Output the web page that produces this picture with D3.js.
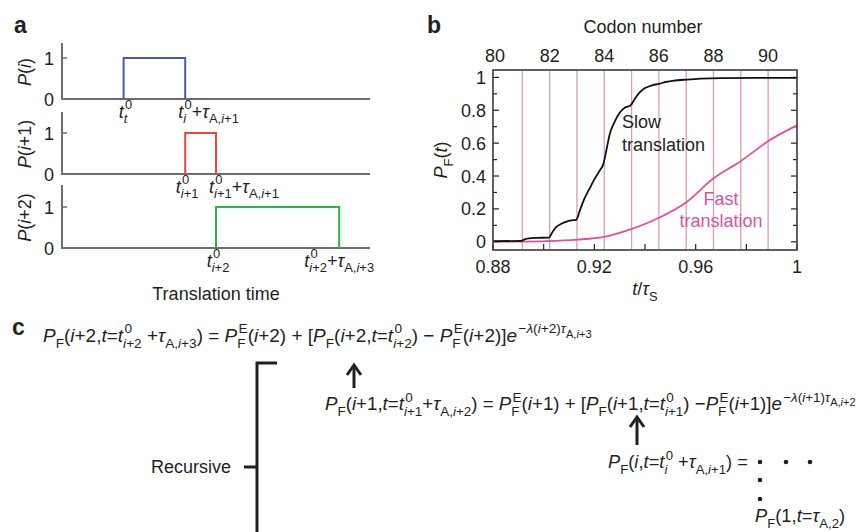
<!DOCTYPE html>
<html>
<head>
<meta charset="utf-8">
<script src="https://cdn.jsdelivr.net/npm/d3@7"></script>
<style>
  body { margin: 0; background: #fff; }
  svg text { font-family: "Liberation Sans", Arial, Helvetica, sans-serif; fill: #231f20; white-space: pre; }
</style>
</head>
<body>
<div id="chart"></div>
<script>
// ---- datos panel a (pulsos en unidades de tiempo arbitrarias)
const pulseYLabels = ['P(i)', 'P(i+1)', 'P(i+2)'];
const pulseStart = [2, 4, 5];
const pulseEnd = [4, 5, 9];
const pulseStartLabels = ['t^{0}_{t}', 't^{0}_{i+1}', 't^{0}_{i+2}'];
const pulseEndLabels = ['t^{0}_{i}+τ_{A,i+1}', 't^{0}_{i+1}+τ_{A,i+1}', 't^{0}_{i+2}+τ_{A,i+3}'];
const pulseTicks = [0, 1];

// ---- datos panel b
const slowT = [0.880, 0.8912, 0.8925, 0.894, 0.897, 0.902, 0.9035, 0.905, 0.907, 0.909, 0.911, 0.9128,
  0.9145, 0.916, 0.918, 0.920, 0.922, 0.9236, 0.9248, 0.926, 0.928, 0.930, 0.932, 0.9343,
  0.936, 0.938, 0.940, 0.943, 0.9455, 0.948, 0.951, 0.9565, 0.962, 0.970, 1.000];
const slowP = [0.004, 0.005, 0.015, 0.021, 0.024, 0.025, 0.06, 0.09, 0.11, 0.123, 0.13, 0.133,
  0.2, 0.26, 0.32, 0.38, 0.43, 0.475, 0.56, 0.65, 0.73, 0.785, 0.815, 0.83,
  0.87, 0.91, 0.935, 0.953, 0.96, 0.972, 0.979, 0.987, 0.993, 0.996, 0.997];
const fastT = [0.880, 0.890, 0.9013, 0.9132, 0.9238, 0.9345, 0.9451, 0.9566, 0.9668, 0.9779, 0.9889, 1.0];
const fastP = [0.0, 0.001, 0.004, 0.013, 0.03, 0.077, 0.143, 0.244, 0.383, 0.492, 0.615, 0.708];
const codonTicks = [80, 82, 84, 86, 88, 90];
const codonGrid = [81, 82, 83, 84, 85, 86, 87, 88, 89, 90];
const codonT = [0.8808, 0.9886];   // t/tauS de los codones 80 y 90
const timeTicks = [0.88, 0.92, 0.96, 1];
const probTicks = [0, 0.2, 0.4, 0.6, 0.8, 1];

// ---- panel c (ecuaciones)
const eqLines = [
  'P_{F}(i+2,t=t^{0}_{i+2} +τ_{A,i+3}) = P^{E}_{F}(i+2) + [P_{F}(i+2,t=t^{0}_{i+2}) − P^{E}_{F}(i+2)]e^{−λ(i+2)τ_{A,i+3}}',
  'P_{F}(i+1,t=t^{0}_{i+1}+τ_{A,i+2}) = P^{E}_{F}(i+1) + [P_{F}(i+1,t=t^{0}_{i+1}) −P^{E}_{F}(i+1)]e^{−λ(i+1)τ_{A,i+2}}',
  'P_{F}(i,t=t^{0}_{i} +τ_{A,i+1}) =',
  'P_{F}(1,t=τ_{A,2})'
];

// Constantes de layout
const width = 860;
const height = 532;
const ink = '#231f20';
const pulseColors = ['#4b5aa7', '#e8473f', '#2eb24b'];
const pink = '#df4f9d';
const fs = 18;

const svg = d3.select('#chart').append('svg')
  .attr('width', width)
  .attr('height', height);

// ---------- helper para texto matematico (sub/superindices)
const ITALIC = new Set(['P', 'i', 't', 'e', 'λ', 'τ']);

function readGroup(s, k) {
  let depth = 0, j = k;
  for (; j < s.length; j++) {
    if (s[j] === '{') depth++;
    else if (s[j] === '}') { depth--; if (depth === 0) break; }
  }
  return [s.slice(k + 1, j), j + 1];
}

function mathText(g, s, x, y, size, level = 0) {
  let i = 0;
  let prevItalic = false;
  while (i < s.length) {
    const c = s[i];
    if (c === '^' || c === '_') {
      let sup = null, sub = null;
      let [grp, j] = readGroup(s, i + 1);
      if (c === '^') sup = grp; else sub = grp;
      i = j;
      if (s[i] === '_' && sub === null) { [grp, j] = readGroup(s, i + 1); sub = grp; i = j; }
      else if (s[i] === '^' && sup === null) { [grp, j] = readGroup(s, i + 1); sup = grp; i = j; }
      const s2 = size * (level === 0 ? 0.72 : 0.82);
      const xs = x + (prevItalic ? size * 0.07 : 0);
      let x2 = x;
      if (sup !== null) x2 = Math.max(x2, mathText(g, sup, xs, y - size * 0.45, s2, level + 1));
      if (sub !== null) x2 = Math.max(x2, mathText(g, sub, x, y + size * 0.33, s2, level + 1));
      x = x2;
      prevItalic = false;
    } else {
      const it = ITALIC.has(c);
      let j = i;
      while (j < s.length && s[j] !== '^' && s[j] !== '_' && ITALIC.has(s[j]) === it) j++;
      const t = g.append('text')
        .attr('x', x).attr('y', y)
        .attr('font-size', size)
        .attr('font-style', it ? 'italic' : 'normal')
        .text(s.slice(i, j));
      x += t.node().getComputedTextLength();
      prevItalic = it;
      i = j;
    }
  }
  return x;
}

// dibuja en (0,0) y devuelve grupo + ancho
function mathBlock(parent, s, size) {
  const g = parent.append('g');
  const w = mathText(g, s, 0, 0, size);
  return { g, w };
}

function panelLetter(txt, x, y) {
  svg.append('text')
    .attr('x', x).attr('y', y)
    .attr('font-size', 23)
    .attr('font-weight', 'bold')
    .text(txt);
}

// =============== PANEL A ===============
function drawPanelA() {
  panelLetter('a', 14, 33);
  const x = d3.scaleLinear().domain([0, 10]).range([62, 370]);
  const baselines = [99, 174, 248];
  const tops = [43, 112, 185];

  pulseYLabels.forEach((name, k) => {
    const g = svg.append('g').attr('class', 'pulse');
    const y = d3.scaleLinear().domain([0, 1]).range([baselines[k], baselines[k] - 41]);

    // ejes
    g.append('line')
      .attr('x1', x(0)).attr('x2', x(0))
      .attr('y1', tops[k]).attr('y2', y(0))
      .attr('stroke', '#6d6e70').attr('stroke-width', 2);
    g.append('line')
      .attr('x1', x(0) - 1).attr('x2', x(10))
      .attr('y1', y(0)).attr('y2', y(0))
      .attr('stroke', '#6d6e70').attr('stroke-width', 2);
    g.append('line')
      .attr('x1', x(0)).attr('x2', x(0) + 5)
      .attr('y1', y(1)).attr('y2', y(1))
      .attr('stroke', '#6d6e70').attr('stroke-width', 1.5);

    g.selectAll('.tick')
      .data(pulseTicks)
      .enter()
      .append('text')
      .attr('x', 49)
      .attr('y', (d) => y(d) + 6.5)
      .attr('text-anchor', 'middle')
      .attr('font-size', fs)
      .text((d) => d);

    // pulso
    const pts = [[pulseStart[k], 0], [pulseStart[k], 1], [pulseEnd[k], 1], [pulseEnd[k], 0]];
    g.append('path')
      .attr('d', d3.line().x((d) => x(d[0])).y((d) => y(d[1]))(pts))
      .attr('fill', 'none')
      .attr('stroke', pulseColors[k])
      .attr('stroke-width', 2);

    // etiqueta y rotada
    const yl = mathBlock(g, name, fs);
    const cy = (tops[k] + baselines[k]) / 2 + 1;
    yl.g.attr('transform', `translate(31, ${cy}) rotate(-90) translate(${-yl.w / 2}, 0)`);

    // etiquetas de tiempo
    const ly = baselines[k] + 18.5;
    const sl = mathBlock(g, pulseStartLabels[k], fs);
    sl.g.attr('transform', `translate(${x(pulseStart[k]) - sl.w / 2 + 2}, ${ly})`);
    const el = mathBlock(g, pulseEndLabels[k], fs);
    const ex = k < 2 ? x(pulseEnd[k]) - 7 : x(pulseEnd[k]) - el.w / 2;
    el.g.attr('transform', `translate(${ex}, ${ly})`);
  });

  svg.append('text')
    .attr('x', 216).attr('y', 300)
    .attr('text-anchor', 'middle')
    .attr('font-size', fs)
    .text('Translation time');
}

// =============== PANEL B ===============
function drawPanelB() {
  panelLetter('b', 427, 33);
  const left = 493, right = 797, top = 70, bottom = 250;
  const x = d3.scaleLinear().domain([0.88, 1]).range([left, right]);
  const y = d3.scaleLinear().domain([-0.05, 1.045]).range([bottom, top]);
  const codon = d3.scaleLinear().domain([80, 90]).range([x(codonT[0]), x(codonT[1])]);

  const g = svg.append('g').attr('class', 'plotb');

  // lineas de codon
  g.selectAll('.grid')
    .data(codonGrid)
    .enter()
    .append('line')
    .attr('x1', (d) => codon(d)).attr('x2', (d) => codon(d))
    .attr('y1', top).attr('y2', bottom)
    .attr('stroke', '#d7a3a4')
    .attr('stroke-width', 1.3);

  // ticks hacia dentro
  const yMinor = d3.range(0, 1.01, 0.1);
  yMinor.forEach((v, idx) => {
    const len = idx % 2 === 0 ? 6 : 4;
    g.append('line').attr('x1', left).attr('x2', left + len)
      .attr('y1', y(v)).attr('y2', y(v)).attr('stroke', ink).attr('stroke-width', 1.2);
    g.append('line').attr('x1', right).attr('x2', right - len)
      .attr('y1', y(v)).attr('y2', y(v)).attr('stroke', ink).attr('stroke-width', 1.2);
  });
  d3.range(0.88, 1.001, 0.02).forEach((v) => {
    g.append('line').attr('x1', x(v)).attr('x2', x(v))
      .attr('y1', bottom).attr('y2', bottom - 6).attr('stroke', ink).attr('stroke-width', 1.2);
  });

  // curvas
  const line = d3.line()
    .x((d) => x(d[0]))
    .y((d) => y(d[1]))
    .curve(d3.curveMonotoneX);

  g.append('path')
    .attr('d', line(fastT.map((t, i) => [t, fastP[i]])))
    .attr('fill', 'none')
    .attr('stroke', pink)
    .attr('stroke-width', 1.8);

  g.append('path')
    .attr('d', line(slowT.map((t, i) => [t, slowP[i]])))
    .attr('fill', 'none')
    .attr('stroke', '#111')
    .attr('stroke-width', 1.8);

  // marco
  g.append('rect')
    .attr('x', left).attr('y', top)
    .attr('width', right - left).attr('height', bottom - top)
    .attr('fill', 'none')
    .attr('stroke', '#3a3a3a')
    .attr('stroke-width', 1.6);

  // etiquetas de ejes
  g.selectAll('.ylab')
    .data(probTicks)
    .enter()
    .append('text')
    .attr('x', 486)
    .attr('y', (d) => y(d) + 6.5)
    .attr('text-anchor', 'end')
    .attr('font-size', fs)
    .text((d) => d);

  g.selectAll('.xlab')
    .data(timeTicks)
    .enter()
    .append('text')
    .attr('x', (d) => x(d))
    .attr('y', 273)
    .attr('text-anchor', 'middle')
    .attr('font-size', fs)
    .text((d) => d);

  g.selectAll('.clab')
    .data(codonTicks)
    .enter()
    .append('text')
    .attr('x', (d) => codon(d))
    .attr('y', 62)
    .attr('text-anchor', 'middle')
    .attr('font-size', fs)
    .text((d) => d);

  g.append('text')
    .attr('x', 643).attr('y', 33)
    .attr('text-anchor', 'middle')
    .attr('font-size', fs)
    .text('Codon number');

  const xl = mathBlock(g, 't/τ_{S}', fs);
  xl.g.attr('transform', `translate(${645 - xl.w / 2}, 295)`);

  const yl = mathBlock(g, 'P_{F}(t)', fs);
  yl.g.attr('transform', `translate(447, 160) rotate(-90) translate(${-yl.w / 2}, 0)`);

  // leyendas en linea
  g.append('text').attr('x', 622).attr('y', 128).attr('font-size', fs).text('Slow');
  g.append('text').attr('x', 622).attr('y', 151).attr('font-size', fs).text('translation');
  g.append('text').attr('x', 721).attr('y', 205).attr('text-anchor', 'middle')
    .attr('font-size', fs).style('fill', pink).text('Fast');
  g.append('text').attr('x', 721).attr('y', 227).attr('text-anchor', 'middle')
    .attr('font-size', fs).style('fill', pink).text('translation');
}

// =============== PANEL C ===============
function fitEq(s, x0, y0, w) {
  const tmp = mathBlock(svg, s, fs);
  tmp.g.remove();
  const b = mathBlock(svg, s, fs * w / tmp.w);
  b.g.attr('transform', `translate(${x0}, ${y0})`);
  return fs * w / tmp.w;
}

function arrowUp(x0, yTip, yBase) {
  svg.append('line')
    .attr('x1', x0).attr('x2', x0)
    .attr('y1', yTip + 2).attr('y2', yBase)
    .attr('stroke', ink).attr('stroke-width', 3);
  svg.append('path')
    .attr('d', `M${x0 - 7},${yTip + 10} L${x0},${yTip} L${x0 + 7},${yTip + 10}`)
    .attr('fill', 'none')
    .attr('stroke', ink)
    .attr('stroke-width', 3);
}

function drawPanelC() {
  panelLetter('c', 12, 335);
  fitEq(eqLines[0], 43, 342, 549);
  fitEq(eqLines[1], 325, 410, 531);
  const s3 = fitEq(eqLines[2], 608, 468, 140);
  const b4 = mathBlock(svg, eqLines[3], s3);
  b4.g.attr('transform', 'translate(755, 522)');

  arrowUp(354, 365, 388);
  arrowUp(637, 417, 445);

  // puntos suspensivos
  const dots = [[760, 462], [786, 462], [810, 462], [760, 480], [760, 499]];
  svg.selectAll('.dot')
    .data(dots)
    .enter()
    .append('circle')
    .attr('cx', (d) => d[0]).attr('cy', (d) => d[1])
    .attr('r', 2.3)
    .attr('fill', ink);

  // corchete "Recursive"
  svg.append('path')
    .attr('d', 'M277,363 L257,363 L257,540 M244,467 L257,467')
    .attr('fill', 'none')
    .attr('stroke', ink)
    .attr('stroke-width', 3);
  svg.append('text')
    .attr('x', 231).attr('y', 473)
    .attr('text-anchor', 'end')
    .attr('font-size', fs)
    .text('Recursive');
}

drawPanelA();
drawPanelB();
drawPanelC();
</script>
</body>
</html>
